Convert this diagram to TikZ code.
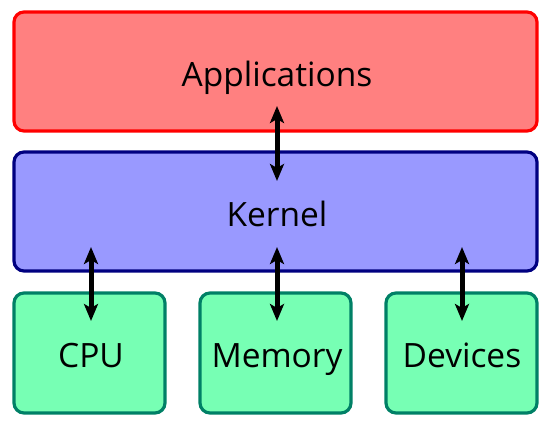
\documentclass[tikz,border=0pt]{standalone}
\usepackage{fontspec}
\setmainfont{Open Sans}
\usetikzlibrary{arrows.meta}
\definecolor{appfill}{HTML}{FF8080}
\definecolor{appdraw}{HTML}{FF0000}
\definecolor{kerfill}{HTML}{9999FF}
\definecolor{kerdraw}{HTML}{000080}
\definecolor{hwfill}{HTML}{77FFB4}
\definecolor{hwdraw}{HTML}{008066}
\tikzset{
  layer/.style={rounded corners=10pt, line width=3.2pt},
  app/.style={layer, fill=appfill, draw=appdraw},
  ker/.style={layer, fill=kerfill, draw=kerdraw},
  hw/.style={layer, fill=hwfill, draw=hwdraw},
  txt/.style={font=\fontsize{33.5}{40}\selectfont, inner sep=0pt, anchor=base},
  tipstyle/.tip={Stealth[length=17pt,width=14pt,inset=4pt]},
  link/.style={line width=5pt, tipstyle-tipstyle}
}
\begin{document}
\begin{tikzpicture}[x=1pt,y=-1pt]
\useasboundingbox (0,0) rectangle (551,429);
\draw[app] (14,12) rectangle (537,131);
\node[txt] (apps) at (277,86) {Applications};
\draw[ker] (14,152) rectangle (537,271);
\node[txt] (kernel) at (277,226) {Kernel};
\draw[hw] (14,293) rectangle (165,413);
\node[txt] (cpu) at (91,367) {CPU};
\draw[hw] (200,293) rectangle (351,413);
\node[txt] (mem) at (277,367) {Memory};
\draw[hw] (386,293) rectangle (537,413);
\node[txt] (dev) at (462,367) {Devices};
\coordinate (a1) at (277,106);
\coordinate (a2) at (277,181);
\coordinate (c1) at (91,247);
\coordinate (c2) at (91,321);
\coordinate (m1) at (277,247);
\coordinate (m2) at (277,321);
\coordinate (d1) at (462,247);
\coordinate (d2) at (462,321);
\draw[link] (a1) -- (a2);
\draw[link] (c1) -- (c2);
\draw[link] (m1) -- (m2);
\draw[link] (d1) -- (d2);
\end{tikzpicture}
\end{document}
